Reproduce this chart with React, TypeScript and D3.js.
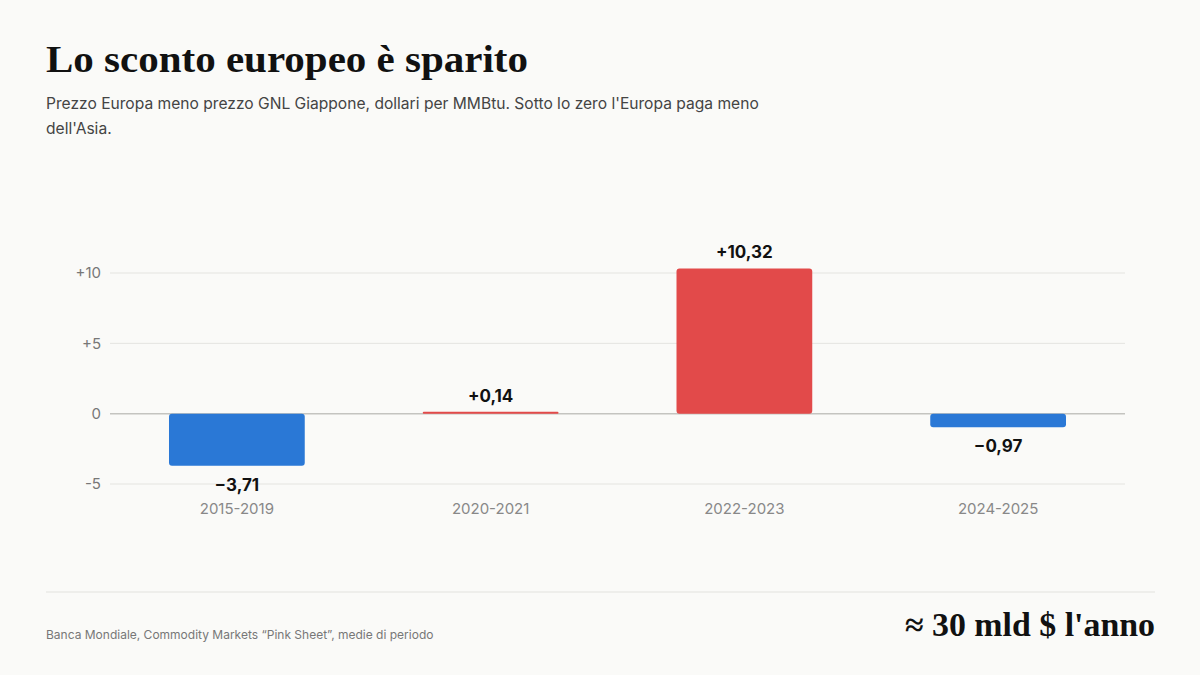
import React from "react";
import * as d3 from "d3";

const periods = ["2015-2019", "2020-2021", "2022-2023", "2024-2025"];
const spread = [-3.71, 0.14, 10.32, -0.97];
const yTicks = [-5, 0, 5, 10];

const W = 1200;
const H = 675;
const plot = { left: 110, right: 1125, top: 273, bottom: 484 };

const fmtValue = (v: number) =>
  (v >= 0 ? "+" : "\u2212") + Math.abs(v).toFixed(2).replace(".", ",");
const fmtTick = (v: number) => (v > 0 ? "+" + v : String(v));

export default function App() {
  const x = d3
    .scaleBand<string>()
    .domain(periods)
    .range([plot.left, plot.right])
    .paddingInner(0.465)
    .paddingOuter(0.2325);
  const y = d3.scaleLinear().domain([-5, 10]).range([plot.bottom, plot.top]);
  const sans = "Inter, 'Noto Sans', sans-serif";
  const serif = "'Liberation Serif', 'DejaVu Serif', serif";

  return (
    <svg
      width={W}
      height={H}
      style={{ position: "absolute", left: 0, top: 0, background: "#fafaf8" }}
    >
      <rect width={W} height={H} fill="#fafaf8" />
      <text x={46} y={72} fontFamily={serif} fontSize={38} fontWeight={600} fill="#111" textLength={482} lengthAdjust="spacingAndGlyphs">
        Lo sconto europeo è sparito
      </text>
      <text fontFamily={sans} fontSize={15.6} fill="#444">
        <tspan x={46} y={109}>
          Prezzo Europa meno prezzo GNL Giappone, dollari per MMBtu. Sotto lo zero l'Europa paga meno
        </tspan>
        <tspan x={46} y={134}>dell'Asia.</tspan>
      </text>

      {yTicks.map((t) => (
        <g key={t}>
          <line
            x1={plot.left}
            x2={plot.right}
            y1={y(t)}
            y2={y(t)}
            stroke={t === 0 ? "#c4c4c0" : "#e4e4e0"}
            strokeWidth={t === 0 ? 1.5 : 1}
          />
          <text x={101} y={y(t)} dy="0.35em" textAnchor="end" fontFamily={sans} fontSize={15} fill="#777">
            {fmtTick(t)}
          </text>
        </g>
      ))}

      {periods.map((p, i) => {
        const v = spread[i];
        const x0 = x(p)!;
        const bw = x.bandwidth();
        const top = Math.min(y(v), y(0));
        const h = Math.abs(y(v) - y(0));
        const cx = x0 + bw / 2;
        return (
          <g key={p}>
            <rect
              x={x0}
              y={top}
              width={bw}
              height={Math.max(h, 1.5)}
              rx={Math.min(3, h / 2)}
              fill={v >= 0 ? "#e24a4a" : "#2a78d6"}
            />
            <text
              x={cx}
              y={v >= 0 ? y(v) - 10 : y(v) + 25}
              textAnchor="middle"
              fontFamily={sans}
              fontSize={17}
              fontWeight={700}
              fill="#111"
            >
              {fmtValue(v)}
            </text>
            <text x={cx} y={514} textAnchor="middle" fontFamily={sans} fontSize={15} fill="#888">
              {p}
            </text>
          </g>
        );
      })}

      <line x1={46} x2={1155} y1={592} y2={592} stroke="#e2e2de" strokeWidth={1} />
      <text x={46} y={639} fontFamily={sans} fontSize={12} fill="#777">
        Banca Mondiale, Commodity Markets “Pink Sheet”, medie di periodo
      </text>
      <text x={1155} y={636} textAnchor="end" fontFamily={serif} fontSize={33} fontWeight={600} fill="#111" textLength={250} lengthAdjust="spacingAndGlyphs">
        ≈ 30 mld $ l'anno
      </text>
    </svg>
  );
}
